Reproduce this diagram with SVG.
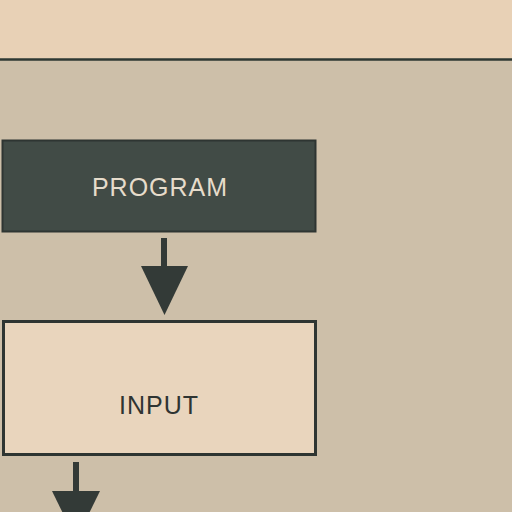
<svg xmlns="http://www.w3.org/2000/svg" width="512" height="512" viewBox="0 0 512 512">
<style>
.lbl{font-family:"Liberation Sans",Arial,sans-serif;font-size:25px;text-anchor:middle;letter-spacing:1px}
.ink{fill:#333a37}
</style>
<rect x="0" y="0" width="512" height="512" fill="#cdbfa9"/>
<rect x="0" y="0" width="512" height="59" fill="#e8d1b6"/>
<line x1="0" y1="59.5" x2="512" y2="59.5" stroke="#2e3833" stroke-width="2.5"/>
<g id="program">
<rect x="2.5" y="140.5" width="313" height="91" fill="#414b46" stroke="#2e3532" stroke-width="2"/>
<text class="lbl" x="160" y="196" fill="#e6dccb">PROGRAM</text>
</g>
<g id="input">
<rect x="3.5" y="321.5" width="312" height="133" fill="#e9d5bd" stroke="#2e3532" stroke-width="3"/>
<text class="lbl" x="159" y="414" fill="#2f3432">INPUT</text>
</g>
<g id="connectors">
<rect class="ink" x="161" y="238" width="6" height="30"/>
<polygon class="ink" points="141,266 188,266 164.5,315"/>
<rect class="ink" x="73" y="462" width="6" height="31"/>
<polygon class="ink" points="52,491 100,491 76,540"/>
</g>
</svg>
